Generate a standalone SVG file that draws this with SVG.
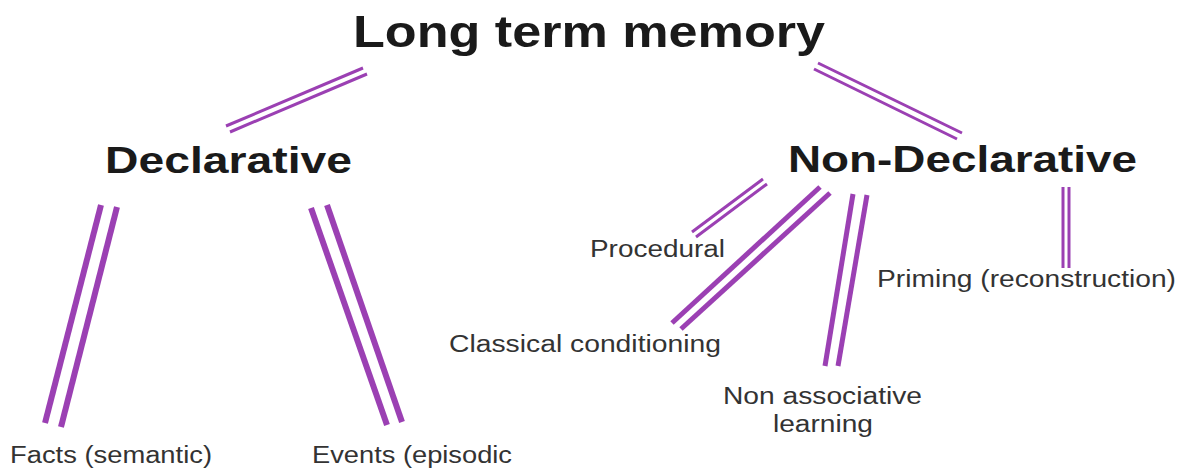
<svg xmlns="http://www.w3.org/2000/svg" width="1182" height="468" viewBox="0 0 1182 468">
<style>
.bg{fill:#ffffff}
.h1{font-family:"Liberation Sans",Arial,sans-serif;font-weight:bold;fill:#1a1a1a}
.lbl{font-family:"Liberation Sans",Arial,sans-serif;fill:#333333;font-size:23px}
.c line{stroke:#9b40b3;stroke-linecap:butt}
.w3 line{stroke-width:3}
.w5 line{stroke-width:5}
.w6 line{stroke-width:6}
</style>
<rect class="bg" x="0" y="0" width="1182" height="468"/>
<g id="connectors" class="c">
  <g id="c-ltm-decl" class="w3">
    <line x1="226" y1="126" x2="363" y2="68"/>
    <line x1="230" y1="132" x2="367" y2="74"/>
  </g>
  <g id="c-ltm-nondecl" class="w3">
    <line x1="818" y1="63" x2="962" y2="133"/>
    <line x1="814" y1="69" x2="957" y2="139"/>
  </g>
  <g id="c-decl-facts" class="w6">
    <line x1="101" y1="205" x2="45" y2="423"/>
    <line x1="117" y1="207" x2="61" y2="427"/>
  </g>
  <g id="c-decl-events" class="w6">
    <line x1="311" y1="208" x2="387" y2="425"/>
    <line x1="327" y1="205" x2="402" y2="422"/>
  </g>
  <g id="c-nd-proc" class="w3">
    <line x1="763" y1="179" x2="692" y2="232"/>
    <line x1="767" y1="184" x2="696" y2="237"/>
  </g>
  <g id="c-nd-class" class="w5">
    <line x1="820" y1="187" x2="672" y2="323"/>
    <line x1="830" y1="193" x2="681" y2="329"/>
  </g>
  <g id="c-nd-nonassoc" class="w5">
    <line x1="853" y1="194" x2="825" y2="366"/>
    <line x1="867" y1="195" x2="838" y2="366"/>
  </g>
  <g id="c-nd-priming" class="w3">
    <line x1="1063" y1="187" x2="1063" y2="268"/>
    <line x1="1069" y1="187" x2="1069" y2="268"/>
  </g>
</g>
<g id="node-ltm"><text class="h1" x="353" y="47" font-size="45" textLength="472" lengthAdjust="spacingAndGlyphs">Long term memory</text></g>
<g id="node-declarative"><text class="h1" x="105" y="173" font-size="36" textLength="247" lengthAdjust="spacingAndGlyphs">Declarative</text></g>
<g id="node-nondeclarative"><text class="h1" x="788" y="172" font-size="36" textLength="349" lengthAdjust="spacingAndGlyphs">Non-Declarative</text></g>
<g id="node-procedural"><text class="lbl" x="590" y="257" textLength="135" lengthAdjust="spacingAndGlyphs">Procedural</text></g>
<g id="node-classical"><text class="lbl" x="449" y="352" textLength="272" lengthAdjust="spacingAndGlyphs">Classical conditioning</text></g>
<g id="node-priming"><text class="lbl" x="877" y="287" textLength="299" lengthAdjust="spacingAndGlyphs">Priming (reconstruction)</text></g>
<g id="node-nonassoc">
  <text class="lbl" x="723" y="404" textLength="199" lengthAdjust="spacingAndGlyphs">Non associative</text>
  <text class="lbl" x="773" y="432" textLength="100" lengthAdjust="spacingAndGlyphs">learning</text>
</g>
<g id="node-facts"><text class="lbl" x="10" y="463" textLength="202" lengthAdjust="spacingAndGlyphs">Facts (semantic)</text></g>
<g id="node-events"><text class="lbl" x="312" y="463" textLength="200" lengthAdjust="spacingAndGlyphs">Events (episodic</text></g>
</svg>
